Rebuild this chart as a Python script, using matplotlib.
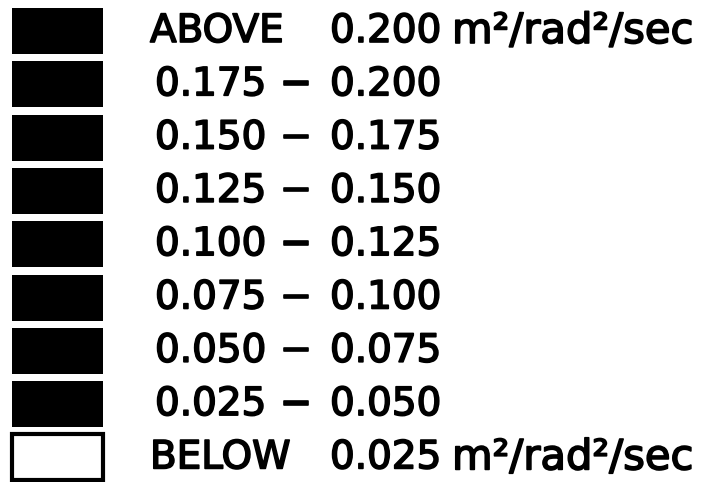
import matplotlib.pyplot as plt
import matplotlib.patheffects as pe

# legend rows, top to bottom
low_labels = ['ABOVE', '0.175', '0.150', '0.125', '0.100', '0.075', '0.050', '0.025', 'BELOW']
high_labels = ['0.200', '0.200', '0.175', '0.150', '0.125', '0.100', '0.075', '0.050', '0.025']
unit_label = 'm²/rad²/sec'
fill_colors = ['black'] * 8 + ['white']

rows = list(range(len(low_labels)))

fig = plt.figure(figsize=(7.2, 4.82), dpi=100)
ax = fig.add_axes([0, 0, 1, 1])
ax.set_xlim(0, 720)
ax.set_ylim(482, 0)
ax.axis('off')

row_y = [31 + r * 53.3 for r in rows]

bars = ax.barh(row_y, 91, left=12, height=46, color=fill_colors, linewidth=0)
# only the empty box gets an outline
bars[-1].set_edgecolor('black')
bars[-1].set_linewidth(3)

# slightly heavier strokes than the plain font
thick = [pe.withStroke(linewidth=1.2, foreground='black')]
font = dict(fontsize=28, va='center', ha='left', path_effects=thick)
for y, lo, hi in zip(row_y, low_labels, high_labels):
    if lo in ('ABOVE', 'BELOW'):
        ax.text(150, y, lo, **font)
        ax.text(330, y, hi, **font)
        ax.text(452, y, unit_label, fontsize=30, va='center', ha='left',
                path_effects=thick)
    else:
        ax.text(155, y, lo, **font)
        ax.text(280, y, '−', **font)
        ax.text(330, y, hi, **font)

fig.savefig('out.png', dpi=100)
